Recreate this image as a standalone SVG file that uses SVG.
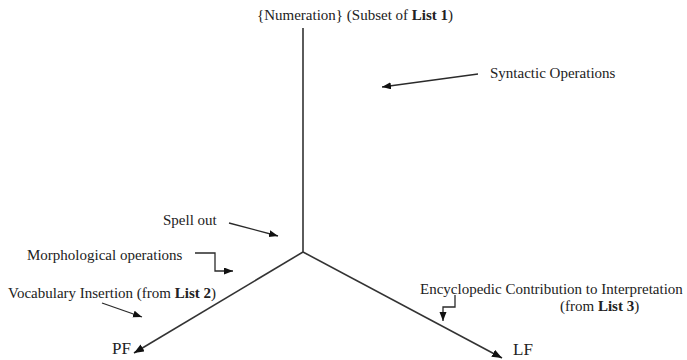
<svg xmlns="http://www.w3.org/2000/svg" width="687" height="360" viewBox="0 0 687 360">
  <style>
    .lbl { font-family: "Liberation Serif", "Times New Roman", serif; font-size: 15px; fill: #222; }
    .big { font-size: 17px; }
    .axis { fill: none; stroke: #333; stroke-width: 1.6; }
    .ptr { fill: none; stroke: #2a2a2a; stroke-width: 1.3; }
  </style>
  <defs>
    <marker id="head" markerUnits="userSpaceOnUse" markerWidth="11" markerHeight="9" refX="10" refY="4" orient="auto">
      <path d="M0,0 L10,4 L0,8 z" fill="#111"/>
    </marker>
    <marker id="headS" markerUnits="userSpaceOnUse" markerWidth="10" markerHeight="8" refX="9" refY="3.5" orient="auto">
      <path d="M0,0 L9,3.5 L0,7 z" fill="#111"/>
    </marker>
  </defs>

  <!-- derivation tree: numeration down to the split, then PF and LF branches -->
  <g id="connectors">
    <path id="trunk" class="axis" d="M303,28 V252"/>
    <path id="to-pf" class="axis" d="M303,252 L134,353" marker-end="url(#head)"/>
    <path id="to-lf" class="axis" d="M303,252 L502,358" marker-end="url(#head)"/>
    <!-- pointers from the labels to the stages they describe -->
    <path id="p-syntax" class="ptr" d="M478,74 L382,87" marker-end="url(#headS)"/>
    <path id="p-spell" class="ptr" d="M229,223 L278,236" marker-end="url(#headS)"/>
    <path id="p-morph" class="ptr" d="M195,253 H215 V271 H233" marker-end="url(#headS)"/>
    <path id="p-vocab" class="ptr" d="M102,303 L142,317" marker-end="url(#headS)"/>
    <path id="p-ency" class="ptr" d="M455,295 V307 H443 V321" marker-end="url(#headS)"/>
  </g>

  <g id="numeration">
    <text class="lbl" x="257" y="20">{Numeration} (Subset of <tspan font-weight="bold">List 1</tspan>)</text>
  </g>
  <g id="syntactic-operations">
    <text class="lbl" x="490" y="78">Syntactic Operations</text>
  </g>
  <g id="spell-out">
    <text class="lbl" x="163" y="225">Spell out</text>
  </g>
  <g id="morphological-operations">
    <text class="lbl" x="27" y="260">Morphological operations</text>
  </g>
  <g id="vocabulary-insertion">
    <text class="lbl" x="8" y="298">Vocabulary Insertion (from <tspan font-weight="bold">List 2</tspan>)</text>
  </g>
  <g id="encyclopedic">
    <text class="lbl" x="420" y="294">Encyclopedic Contribution to Interpretation</text>
    <text class="lbl" x="560" y="311">(from <tspan font-weight="bold">List 3</tspan>)</text>
  </g>
  <g id="pf">
    <text class="lbl big" x="112" y="354">PF</text>
  </g>
  <g id="lf">
    <text class="lbl big" x="513" y="355">LF</text>
  </g>
</svg>
